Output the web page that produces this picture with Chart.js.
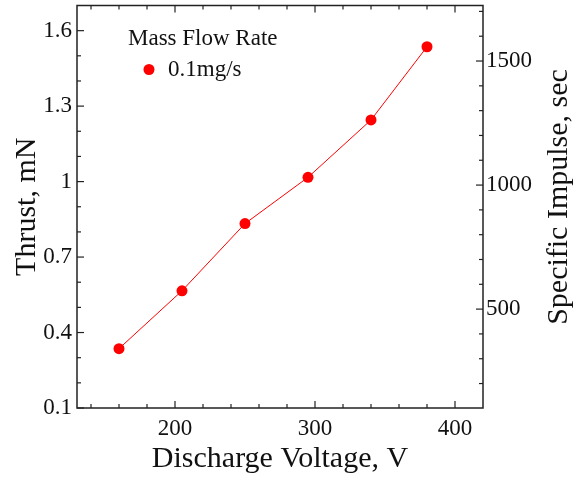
<!DOCTYPE html>
<html><head><meta charset="utf-8">
<script src="https://cdn.jsdelivr.net/npm/chart.js@4/dist/chart.umd.min.js"></script>
<style>html,body{margin:0;padding:0;background:#fff}canvas{display:block}</style>
</head><body>
<canvas id="c" width="581" height="479"></canvas>
<script>
// ---- data ----
const voltage = [160, 205, 250, 295, 340, 380];
const thrust = [0.336, 0.566, 0.833, 1.017, 1.245, 1.536];
const seriesLabel = '0.1mg/s';
const legendTitle = 'Mass Flow Rate';
const thrustRange = [0.1, 1.7];
const voltageRange = [130, 420];
const ISP_PER_MN = 1014; // specific impulse (s) per mN of thrust at 0.1 mg/s
const thrustTicks = [0.1, 0.4, 0.7, 1.0, 1.3, 1.6];
const thrustTickLabels = ['0.1', '0.4', '0.7', '1', '1.3', '1.6'];
const thrustMinor = [0.2, 0.3, 0.5, 0.6, 0.8, 0.9, 1.1, 1.2, 1.4, 1.5];
const voltageTicks = [200, 300, 400];
const voltageMinor = [140, 160, 180, 220, 240, 260, 280, 320, 340, 360, 380];
const ispTicks = [500, 1000, 1500];
const ispMinor = [200, 300, 400, 600, 700, 800, 900, 1100, 1200, 1300, 1400, 1600, 1700];

const FONT = 'Liberation Serif';
const INK = '#111';
const RED = '#ff0000';

const frameAndTicks = {
  id: 'frameAndTicks',
  afterDraw(chart) {
    const {ctx, chartArea: {left, right, top, bottom}, scales: {x, y, y2}} = chart;
    ctx.save();
    ctx.strokeStyle = '#222';
    ctx.lineWidth = 1.5;
    ctx.strokeRect(left, top, right - left, bottom - top);
    ctx.lineWidth = 1.2;
    const MAJ = 7, MIN = 4;
    const seg = (x1, y1, x2, y2_) => { ctx.beginPath(); ctx.moveTo(x1, y1); ctx.lineTo(x2, y2_); ctx.stroke(); };
    voltageTicks.forEach(v => { const p = x.getPixelForValue(v); seg(p, bottom, p, bottom - MAJ); seg(p, top, p, top + MAJ); });
    voltageMinor.forEach(v => { const p = x.getPixelForValue(v); seg(p, bottom, p, bottom - MIN); seg(p, top, p, top + MIN); });
    thrustTicks.forEach(v => { const p = y.getPixelForValue(v); seg(left, p, left + MAJ, p); });
    thrustMinor.forEach(v => { const p = y.getPixelForValue(v); seg(left, p, left + MIN, p); });
    ispTicks.forEach(v => { const p = y2.getPixelForValue(v); seg(right, p, right - MAJ, p); });
    ispMinor.forEach(v => { const p = y2.getPixelForValue(v); seg(right, p, right - MIN, p); });
    ctx.restore();
  }
};

const overlayText = {
  id: 'overlayText',
  afterDraw(chart) {
    const {ctx, chartArea: {left, top}} = chart;
    const ds = chart.data.datasets[0];
    ctx.save();
    ctx.fillStyle = INK;
    ctx.textBaseline = 'middle';
    ctx.textAlign = 'left';
    ctx.font = `23px "${FONT}"`;
    ctx.fillText(legendTitle, left + 51, top + 33);
    ctx.beginPath();
    ctx.arc(left + 72, top + 64, 5.5, 0, Math.PI * 2);
    ctx.fillStyle = ds.pointBackgroundColor;
    ctx.fill();
    ctx.fillStyle = INK;
    ctx.fillText(ds.label, left + 91, top + 64);
    // right axis title (reads bottom to top)
    ctx.font = `30px "${FONT}"`;
    ctx.textAlign = 'center';
    ctx.translate(559, 197);
    ctx.rotate(-Math.PI / 2);
    ctx.fillText('Specific Impulse, sec', 0, 0);
    ctx.restore();
  }
};

const noPad = s => { s.paddingTop = 0; s.paddingBottom = 0; s.paddingLeft = 0; s.paddingRight = 0; };

new Chart(document.getElementById('c'), {
  type: 'line',
  data: {
    datasets: [{
      label: seriesLabel,
      data: voltage.map((v, i) => ({x: v, y: thrust[i]})),
      borderColor: RED,
      borderWidth: 1,
      pointBackgroundColor: RED,
      pointBorderColor: RED,
      pointBorderWidth: 0,
      pointRadius: 5.5,
      tension: 0,
      yAxisID: 'y'
    }]
  },
  options: {
    responsive: false,
    animation: false,
    devicePixelRatio: 1,
    layout: {padding: {top: 4, left: 0, right: 0, bottom: 0}},
    plugins: {legend: {display: false}, tooltip: {enabled: false}},
    scales: {
      x: {
        type: 'linear', position: 'bottom',
        min: voltageRange[0], max: voltageRange[1],
        afterBuildTicks: s => { s.ticks = voltageTicks.map(v => ({value: v})); },
        afterFit: s => { s.height = 71; noPad(s); },
        grid: {display: false, drawTicks: false},
        border: {display: false},
        ticks: {font: {family: FONT, size: 23}, color: INK, padding: 7, maxRotation: 0, autoSkip: false,
                callback: v => String(v)},
        title: {display: true, text: 'Discharge Voltage, V', font: {family: FONT, size: 30}, color: INK,
                padding: {top: 0, bottom: 2}}
      },
      y: {
        type: 'linear', position: 'left',
        min: thrustRange[0], max: thrustRange[1],
        afterBuildTicks: s => { s.ticks = thrustTicks.map(v => ({value: v})); },
        afterFit: s => { s.width = 77; noPad(s); },
        grid: {display: false, drawTicks: false},
        border: {display: false},
        ticks: {font: {family: FONT, size: 23}, color: INK, padding: 5, autoSkip: false,
                callback: (v, i) => thrustTickLabels[i]},
        title: {display: true, text: 'Thrust, mN', font: {family: FONT, size: 30}, color: INK,
                padding: {top: 9, bottom: 0}}
      },
      y2: {
        type: 'linear', position: 'right',
        min: thrustRange[0] * ISP_PER_MN, max: thrustRange[1] * ISP_PER_MN,
        afterBuildTicks: s => { s.ticks = ispTicks.map(v => ({value: v})); },
        afterFit: s => { s.width = 98; noPad(s); },
        grid: {display: false, drawTicks: false},
        border: {display: false},
        ticks: {font: {family: FONT, size: 23}, color: INK, padding: 3, autoSkip: false,
                callback: v => String(v)}
      }
    }
  },
  plugins: [frameAndTicks, overlayText]
});
</script>
</body></html>
